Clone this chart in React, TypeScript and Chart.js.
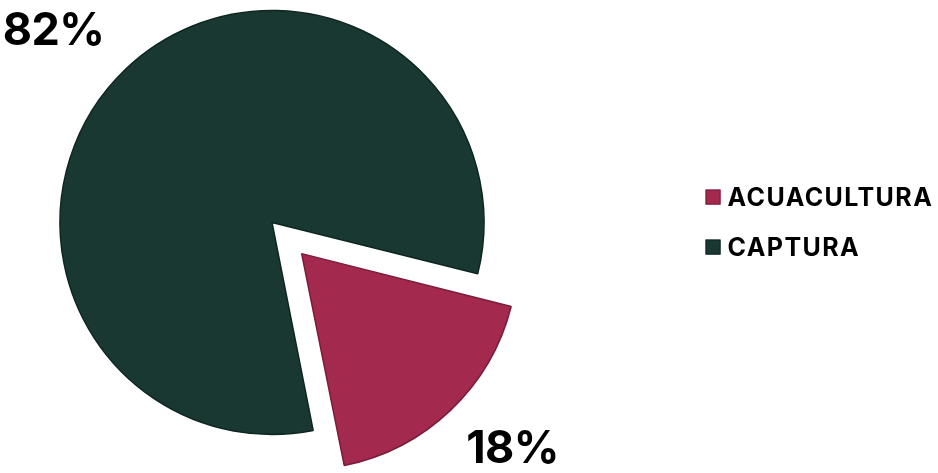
import React, { useEffect, useRef } from "react";
import { Chart, registerables } from "chart.js";

Chart.register(...registerables);

const categories = ["ACUACULTURA", "CAPTURA"];
const shares = [18, 82];
const valueLabels = ["18%", "82%"];
const sliceColors = ["#a3294f", "#1a3832"];
const edgeColors = ["#7a1c3a", "#0f2520"];

const FONT = "Inter, 'Noto Sans', sans-serif";

const overlayPlugin = {
  id: "overlay",
  afterDraw(chart: any) {
    const ctx = chart.ctx as CanvasRenderingContext2D;
    const meta = chart.getDatasetMeta(0);
    const main = meta.data[1];
    const cx = main.x;
    const cy = main.y;
    const r = main.outerRadius;
    ctx.save();
    // value labels
    ctx.fillStyle = "#000";
    ctx.font = `700 45px ${FONT}`;
    (ctx as any).letterSpacing = "-0.5px";
    ctx.textAlign = "center";
    ctx.textBaseline = "middle";
    ctx.fillText(valueLabels[1], cx - r * 1.03, cy - r * 0.9);
    ctx.fillText(valueLabels[0], cx + r * 1.135, cy + r * 1.07);
    // legend
    const lx = cx + r * 2.045;
    const ly0 = cy - r * 0.12;
    const gap = 50;
    ctx.textAlign = "left";
    ctx.font = `700 25px ${FONT}`;
    (ctx as any).letterSpacing = "1.4px";
    categories.forEach((c, i) => {
      const y = ly0 + i * gap;
      ctx.fillStyle = sliceColors[i];
      ctx.fillRect(lx, y - 7.5, 15, 15);
      ctx.strokeStyle = edgeColors[i];
      ctx.lineWidth = 1;
      ctx.strokeRect(lx + 0.5, y - 7, 14, 14);
      ctx.fillStyle = "#000";
      ctx.fillText(c, lx + 22, y + 1);
    });
    ctx.restore();
  },
};

export default function App() {
  const ref = useRef<HTMLCanvasElement>(null);
  useEffect(() => {
    document.body.style.margin = "0";
    const chart = new Chart(ref.current!, {
      type: "pie",
      data: {
        labels: categories,
        datasets: [
          {
            data: shares,
            backgroundColor: sliceColors,
            borderColor: edgeColors,
            borderWidth: 1.5,
            offset: [172, 0],
            hoverOffset: 0,
            clip: false as any,
          },
        ],
      },
      options: {
        animation: false,
        responsive: true,
        maintainAspectRatio: false,
        rotation: 104,
        radius: 212,
        layout: { padding: { left: 0, top: 0, right: 394, bottom: 28 } },
        plugins: {
          legend: { display: false },
          tooltip: { enabled: false },
        },
        events: [],
      } as any,
      plugins: [overlayPlugin],
    });
    return () => chart.destroy();
  }, []);
  return (
    <div style={{ position: "relative", width: 938, height: 473 }}>
      <canvas ref={ref} />
    </div>
  );
}
